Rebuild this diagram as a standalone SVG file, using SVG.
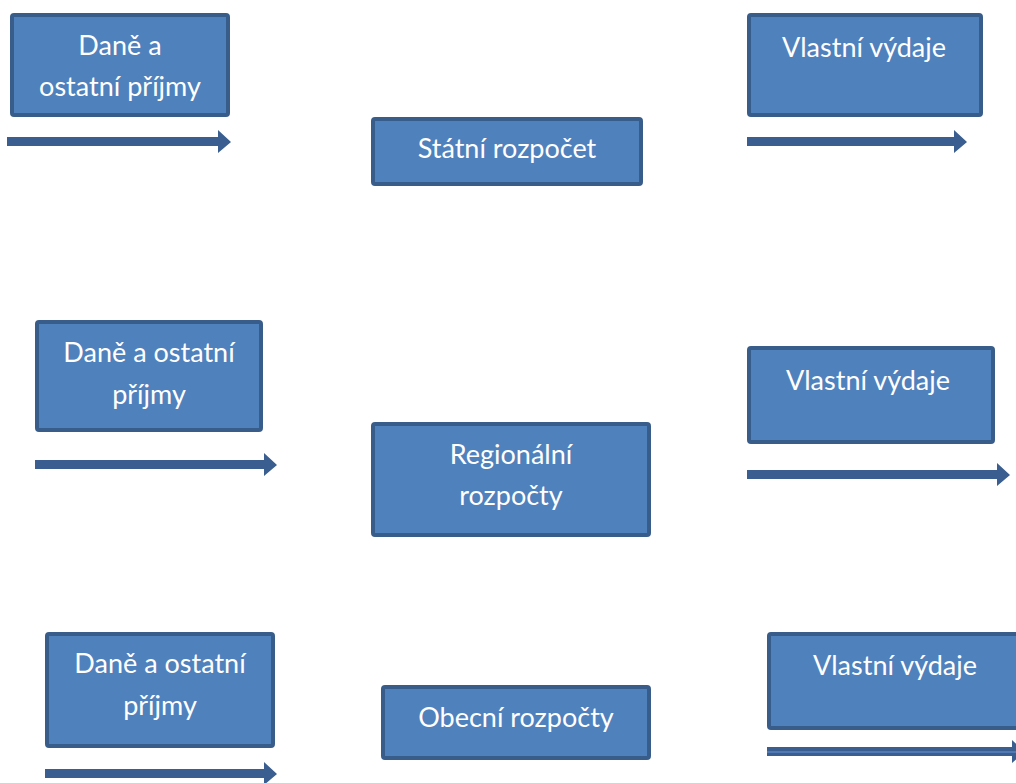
<svg xmlns="http://www.w3.org/2000/svg" width="1016" height="783" viewBox="0 0 1016 783">
<style>
.box{fill:#4F81BD;stroke:#385D8A;stroke-width:4}
.t{font-family:Lato,"Open Sans","Liberation Sans",sans-serif;font-size:27px;fill:#FFFFFF;text-anchor:middle}
.arr{fill:#395E8F}
</style>
<rect width="1016" height="783" fill="#FFFFFF"/>
<g id="n1"><rect class="box" x="12" y="15" width="216" height="100" rx="2"/><text class="t" x="120" y="55">Daně a</text><text class="t" x="120" y="96">ostatní příjmy</text></g>
<g id="n2"><rect class="box" x="749" y="15" width="232" height="100" rx="2"/><text class="t" x="864" y="57">Vlastní výdaje</text></g>
<g id="n3"><rect class="box" x="373" y="119" width="268" height="65" rx="2"/><text class="t" x="507" y="158">Státní rozpočet</text></g>
<g id="n4"><rect class="box" x="37" y="322" width="224" height="108" rx="2"/><text class="t" x="149" y="362">Daně a ostatní</text><text class="t" x="149" y="404">příjmy</text></g>
<g id="n5"><rect class="box" x="749" y="348" width="244" height="94" rx="2"/><text class="t" x="868" y="390">Vlastní výdaje</text></g>
<g id="n6"><rect class="box" x="373" y="424" width="276" height="111" rx="2"/><text class="t" x="511" y="464">Regionální</text><text class="t" x="511" y="505">rozpočty</text></g>
<g id="n7"><rect class="box" x="47" y="634" width="226" height="112" rx="2"/><text class="t" x="160" y="673">Daně a ostatní</text><text class="t" x="160" y="715">příjmy</text></g>
<g id="n8"><rect class="box" x="383" y="687" width="266" height="71" rx="2"/><text class="t" x="516" y="727">Obecní rozpočty</text></g>
<g id="n9"><rect class="box" x="769" y="634" width="252" height="94" rx="2"/><text class="t" x="895" y="675">Vlastní výdaje</text></g>
<g id="connectors">
<polygon class="arr" points="7,137 218,137 218,130 231,142 218,153 218,146 7,146"/>
<polygon class="arr" points="747,137 954,137 954,130 967,142 954,153 954,146 747,146"/>
<polygon class="arr" points="35,460 264,460 264,453 277,465 264,476 264,469 35,469"/>
<polygon class="arr" points="747,470 997,470 997,463 1010,475 997,486 997,479 747,479"/>
<polygon class="arr" points="45,769 264,769 264,762 277,774 264,785 264,778 45,778"/>
<polygon class="arr" points="767,747 1012,747 1012,740 1025,752 1012,763 1012,756 767,756"/>
<line x1="767" y1="752" x2="1016" y2="752" stroke="#5A83C0" stroke-width="1.5"/>
</g>
</svg>
